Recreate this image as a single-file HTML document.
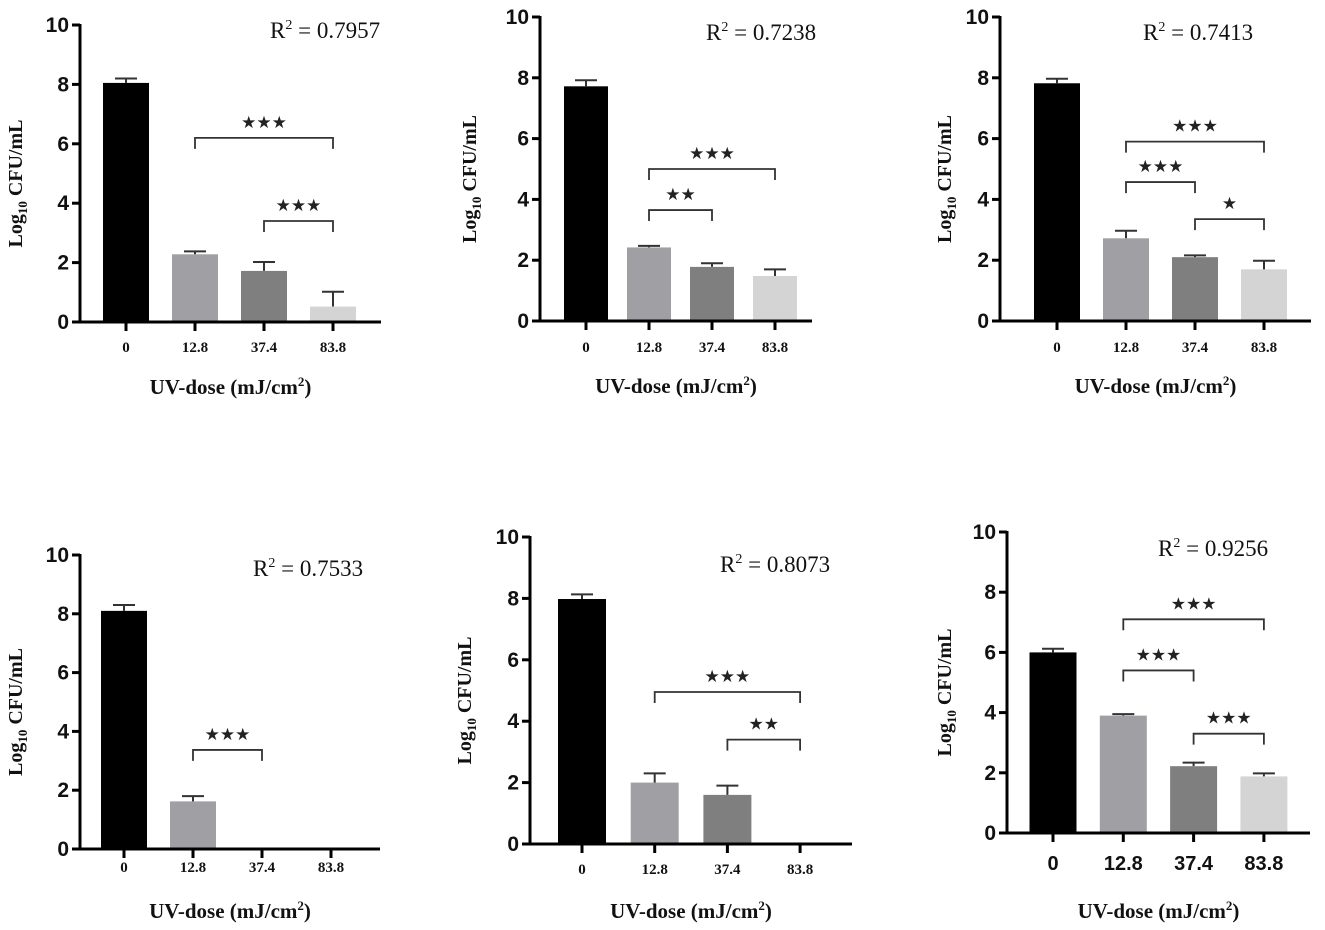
<!DOCTYPE html>
<html><head><meta charset="utf-8">
<style>
html,body{margin:0;padding:0;background:#fff;}
svg{display:block;}
</style></head>
<body>
<svg id="fig" width="1325" height="930" viewBox="0 0 1325 930" xmlns="http://www.w3.org/2000/svg"></svg>
<script>
const categories = ["0","12.8","37.4","83.8"];
const yTicks = [0,2,4,6,8,10];
const valuesA = [8.05,2.28,1.72,0.52];
const errorsA = [0.15,0.1,0.3,0.5];
const valuesB = [7.72,2.42,1.78,1.48];
const errorsB = [0.2,0.05,0.12,0.22];
const valuesC = [7.82,2.72,2.1,1.7];
const errorsC = [0.15,0.25,0.06,0.28];
const valuesD = [8.1,1.62,0,0];
const errorsD = [0.2,0.18,0,0];
const valuesE = [7.98,2.0,1.6,0];
const errorsE = [0.15,0.3,0.3,0];
const valuesF = [6.0,3.9,2.22,1.88];
const errorsF = [0.12,0.05,0.12,0.1];
const r2Labels = ["0.7957","0.7238","0.7413","0.7533","0.8073","0.9256"];
// significance brackets: [fromIndex, toIndex, level, stars]
const sigA = [[1,3,6.2,"***"],[2,3,3.4,"***"]];
const sigB = [[1,3,5.0,"***"],[1,2,3.65,"**"]];
const sigC = [[1,3,5.9,"***"],[1,2,4.57,"***"],[2,3,3.35,"*"]];
const sigD = [[1,2,3.37,"***"]];
const sigE = [[1,3,4.95,"***"],[2,3,3.4,"**"]];
const sigF = [[1,3,7.1,"***"],[1,2,5.4,"***"],[2,3,3.3,"***"]];

const colors = ["#000000","#a0a0a4","#7f7f7f","#d4d4d4"];
const NS = "http://www.w3.org/2000/svg";
const svg = document.getElementById("fig");

const layouts = [
 {ax:80,y0:322,y10:25,xEnd:381,c0:126,step:69,bw:46,tickY:352,titleY:394,rx:270,ry:38,ylx:22,sansX:false},
 {ax:540,y0:321,y10:17,xEnd:812,c0:586,step:63,bw:44,tickY:352,titleY:393,rx:706,ry:40,ylx:476,sansX:false},
 {ax:1000,y0:321,y10:17,xEnd:1311,c0:1057,step:69,bw:46,tickY:352,titleY:393,rx:1143,ry:40,ylx:951,sansX:false},
 {ax:80,y0:849,y10:555,xEnd:380,c0:124,step:69,bw:46,tickY:872,titleY:918,rx:253,ry:576,ylx:22,sansX:false},
 {ax:530,y0:844,y10:537,xEnd:852,c0:582,step:72.7,bw:48,tickY:874,titleY:918,rx:720,ry:572,ylx:471,sansX:false},
 {ax:1007,y0:833,y10:532,xEnd:1310,c0:1053,step:70.3,bw:47,tickY:870,titleY:918,rx:1158,ry:556,ylx:951,sansX:true}
];
const allValues = [valuesA,valuesB,valuesC,valuesD,valuesE,valuesF];
const allErrors = [errorsA,errorsB,errorsC,errorsD,errorsE,errorsF];
const allSig = [sigA,sigB,sigC,sigD,sigE,sigF];

function mk(tag, attrs, parent){
  const e = document.createElementNS(NS, tag);
  for (const k in attrs) e.setAttribute(k, attrs[k]);
  (parent||svg).appendChild(e);
  return e;
}

layouts.forEach((L, p) => {
  const g = mk("g", {});
  
  
  const yS = v => L.y0 - (v/10)*(L.y0 - L.y10);
  const xS = i => L.c0 + i*L.step;
  const vals = allValues[p], errs = allErrors[p];

  vals.forEach((v,i) => {
    if (v <= 0) return;
    const r = mk("rect", {x:xS(i)-L.bw/2, y:yS(v), width:L.bw, height:L.y0-yS(v), fill:colors[i]}, g);
    
    
    const e = errs[i];
    if (e > 0) {
      const eb = mk("path", {d:`M${xS(i)},${yS(v)} V${yS(v+e)} M${xS(i)-11},${yS(v+e)} H${xS(i)+11}`, stroke:"#333", "stroke-width":2, fill:"none"}, g);
      
      
    }
  });

  const yax = mk("line", {x1:L.ax, y1:L.y10-1, x2:L.ax, y2:L.y0+1, stroke:"#000", "stroke-width":3}, g);
  
  
  yTicks.forEach(t => {
    mk("line", {x1:L.ax-8, y1:yS(t), x2:L.ax, y2:yS(t), stroke:"#000", "stroke-width":3}, g);
    const tl = mk("text", {x:L.ax-11, y:yS(t)+7, "text-anchor":"end", "font-family":"Liberation Sans, sans-serif", "font-weight":"bold", "font-size":21, fill:"#111"}, g);
    tl.textContent = t;
    
    
  });
  const xax = mk("line", {x1:L.ax-1, y1:L.y0, x2:L.xEnd, y2:L.y0, stroke:"#000", "stroke-width":3}, g);
  
  
  categories.forEach((c,i) => {
    mk("line", {x1:xS(i), y1:L.y0, x2:xS(i), y2:L.y0+9, stroke:"#000", "stroke-width":3}, g);
    const tl = mk("text", {x:xS(i), y:L.tickY, "text-anchor":"middle",
      "font-family": L.sansX ? "Liberation Sans, sans-serif" : "Liberation Serif, serif",
      "font-weight":"bold", "font-size": L.sansX ? 20 : 15, fill:"#111"}, g);
    tl.textContent = c;
    
    
  });

  const xt = mk("text", {x:(L.ax+L.xEnd)/2, y:L.titleY, "text-anchor":"middle", "font-family":"Liberation Serif, serif", "font-weight":"bold", "font-size":21, fill:"#111"}, g);
  xt.innerHTML = 'UV-dose (mJ/cm<tspan dy="-8" font-size="13">2</tspan><tspan dy="8">)</tspan>';
  
  

  const yc = (L.y0+L.y10)/2 + 10;
  const yt = mk("text", {x:L.ylx, y:yc, "text-anchor":"middle", transform:`rotate(-90 ${L.ylx} ${yc})`, "font-family":"Liberation Serif, serif", "font-weight":"bold", "font-size":20, fill:"#111"}, g);
  yt.innerHTML = 'Log<tspan dy="5" font-size="13">10</tspan><tspan dy="-5">  CFU/mL</tspan>';
  
  

  const rt = mk("text", {x:L.rx, y:L.ry, "font-family":"Liberation Serif, serif", "font-size":23, fill:"#111"}, g);
  rt.innerHTML = 'R<tspan dy="-9" font-size="14">2</tspan><tspan dy="9"> = ' + r2Labels[p] + '</tspan>';
  
  

  allSig[p].forEach(s => {
    const x1 = xS(s[0]), x2 = xS(s[1]), yy = yS(s[2]);
    const br = mk("path", {d:`M${x1},${yy+11} V${yy} H${x2} V${yy+11}`, stroke:"#333", "stroke-width":1.8, fill:"none"}, g);
    
    
    const st = mk("text", {x:(x1+x2)/2, y:yy-10, "text-anchor":"middle", "font-family":"DejaVu Sans, sans-serif", "font-size":17, fill:"#222"}, g);
    st.textContent = s[3].replace(/\*/g, "\u2605");
    
    
  });
});
</script>
</body></html>
